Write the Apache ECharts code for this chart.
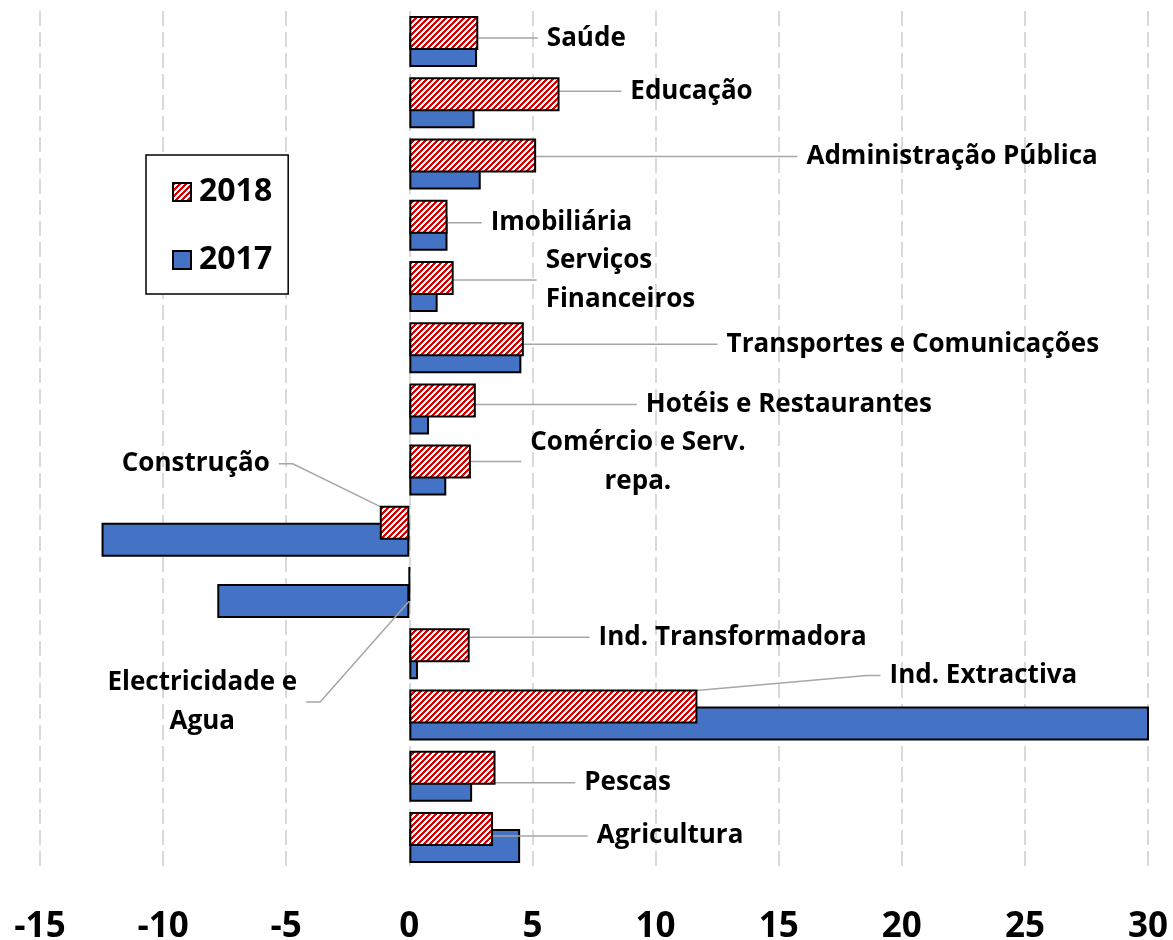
<!DOCTYPE html>
<html>
<head>
<meta charset="utf-8">
<script src="https://cdn.jsdelivr.net/npm/echarts@6/dist/echarts.min.js"></script>
<style>
  html, body { margin: 0; padding: 0; background: #fff; }
  #chart { width: 1173px; height: 940px; }
</style>
</head>
<body>
<div id="chart"></div>
<script>
// categories from bottom to top
const categories = [
  'Agricultura', 'Pescas', 'Ind. Extractiva', 'Ind. Transformadora',
  'Electricidade e\nAgua', 'Construção', 'Comércio e Serv.\nrepa.',
  'Hotéis e Restaurantes', 'Transportes e Comunicações', 'Serviços\nFinanceiros',
  'Imobiliária', 'Administração Pública', 'Educação', 'Saúde'
];
const values2018 = [3.4, 3.5, 11.7, 2.45, 0, -1.2, 2.5, 2.7, 4.65, 1.8, 1.55, 5.15, 6.1, 2.8];
const values2017 = [4.5, 2.55, 33, 0.35, -7.8, -12.5, 1.5, 0.8, 4.55, 1.15, 1.55, 2.9, 2.65, 2.75];
const xTicks = { min: -15, max: 30, step: 5 };

// where each 2018 label sits relative to the end of its bar: [dx, dy, align]
const labelPlace = [
  [177, 7, 'center'], [132, 15, 'center'], [286, -31, 'center'], [263, -8, 'center'],
  [-208, 118, 'center'], [-184, -59, 'center'], [167, 0, 'center'],
  [313, 4, 'center'], [389, 5, 'center'], [83, 2, 'left'],
  [114, 6, 'center'], [416, 1, 'center'], [132, -3, 'center'], [108, 5, 'center']
];

// red / white upward diagonal hatch
function hatch() {
  const n = 6;
  const c = document.createElement('canvas');
  c.width = n; c.height = n;
  const ctx = c.getContext('2d');
  const img = ctx.createImageData(n, n);
  for (let y = 0; y < n; y++) {
    for (let x = 0; x < n; x++) {
      const i = (y * n + x) * 4;
      const red = (x + y) % n < 3;
      img.data[i] = red ? 210 : 255;
      img.data[i + 1] = red ? 0 : 255;
      img.data[i + 2] = red ? 0 : 255;
      img.data[i + 3] = 255;
    }
  }
  ctx.putImageData(img, 0, 0);
  return c;
}

const font = '"Open Sans", "Noto Sans", sans-serif';
const chart = echarts.init(document.getElementById('chart'));

chart.setOption({
  animation: false,
  backgroundColor: '#fff',
  grid: { left: 40, right: 25, top: 11, bottom: 72, outerBoundsMode: 'none' },
  legend: {
    data: ['2018', '2017'],
    orient: 'vertical',
    left: 146, top: 155,
    padding: [21, 16, 18, 26],
    itemWidth: 18, itemHeight: 18, itemGap: 36,
    borderColor: '#000', borderWidth: 1.5,
    backgroundColor: '#fff',
    icon: 'rect',
    textStyle: { fontSize: 32, fontWeight: 'bold', color: '#000', fontFamily: font, padding: [0, 0, 0, 3] }
  },
  xAxis: {
    type: 'value',
    min: xTicks.min, max: xTicks.max, interval: xTicks.step,
    axisLine: { show: false },
    axisTick: { show: false },
    splitLine: { lineStyle: { color: '#d9d9d9', width: 2, type: [15, 6] } },
    axisLabel: { fontSize: 35, fontWeight: 'bold', color: '#000', fontFamily: font, margin: 42 }
  },
  yAxis: {
    type: 'category',
    data: categories,
    axisLine: { show: false },
    axisTick: { show: false },
    axisLabel: { show: false }
  },
  series: [
    {
      name: '2018',
      type: 'bar',
      data: values2018,
      barWidth: 34,
      barGap: '-50%',
      z: 3,
      itemStyle: {
        color: { image: hatch(), repeat: 'repeat' },
        borderColor: '#000', borderWidth: 2
      },
      label: {
        show: true,
        formatter: (p) => categories[p.dataIndex],
        fontSize: 26, fontWeight: 'bold', color: '#000', fontFamily: font,
        lineHeight: 39,
        padding: [0, 9]
      },
      labelLine: {
        show: true,
        length2: 14,
        lineStyle: { color: '#a6a6a6', width: 1.5 }
      },
      labelLayout: (p) => {
        const pl = labelPlace[p.dataIndex];
        const v = values2018[p.dataIndex];
        const endX = v >= 0 ? p.rect.x + p.rect.width : p.rect.x;
        return {
          x: endX + pl[0],
          y: p.rect.y + p.rect.height / 2 + pl[1],
          align: pl[2],
          verticalAlign: 'middle'
        };
      }
    },
    {
      name: '2017',
      type: 'bar',
      data: values2017,
      barWidth: 34,
      z: 2,
      itemStyle: { color: '#4472C4', borderColor: '#000', borderWidth: 2 }
    }
  ]
});
</script>
</body>
</html>
